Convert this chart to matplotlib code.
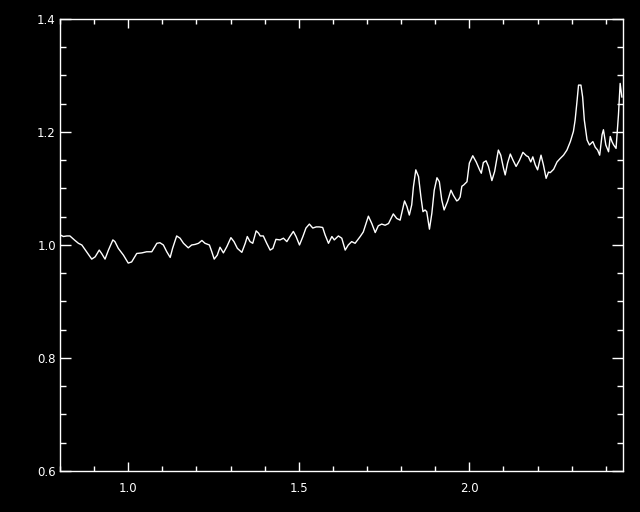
import matplotlib
matplotlib.use("Agg")
import matplotlib.pyplot as plt
from matplotlib.ticker import MultipleLocator, FormatStrFormatter

# wavelength (micron) and normalised flux
wave = [0.800, 0.810, 0.820, 0.829, 0.844, 0.854, 0.864, 0.878, 0.893, 0.903,
        0.915, 0.922, 0.932, 0.942, 0.955, 0.961, 0.971, 0.986, 1.000, 1.010,
        1.025, 1.040, 1.054, 1.069, 1.084, 1.093, 1.103, 1.113, 1.123, 1.130,
        1.142, 1.152, 1.162, 1.176, 1.186, 1.196, 1.206, 1.216, 1.225, 1.238,
        1.245, 1.252, 1.261, 1.269, 1.279, 1.289, 1.301, 1.310, 1.320, 1.333,
        1.343, 1.349, 1.357, 1.365, 1.375, 1.382, 1.387, 1.396, 1.406, 1.416,
        1.424, 1.433, 1.445, 1.455, 1.465, 1.474, 1.484, 1.492, 1.502, 1.512,
        1.521, 1.531, 1.541, 1.551, 1.560, 1.570, 1.577, 1.587, 1.597, 1.604,
        1.616, 1.626, 1.636, 1.645, 1.655, 1.665, 1.680, 1.689, 1.704, 1.714,
        1.724, 1.733, 1.743, 1.753, 1.763, 1.777, 1.787, 1.797, 1.810, 1.817,
        1.824, 1.831, 1.836, 1.843, 1.851, 1.858, 1.864, 1.870, 1.875, 1.883,
        1.890, 1.897, 1.905, 1.912, 1.919, 1.926, 1.936, 1.946, 1.953, 1.963,
        1.968, 1.973, 1.978, 1.983, 1.993, 2.000, 2.010, 2.020, 2.030, 2.035,
        2.041, 2.049, 2.056, 2.066, 2.074, 2.085, 2.092, 2.100, 2.105, 2.112,
        2.120, 2.128, 2.137, 2.147, 2.157, 2.167, 2.173, 2.180, 2.186, 2.193,
        2.200, 2.210, 2.217, 2.225, 2.232, 2.237, 2.247, 2.257, 2.266, 2.276,
        2.286, 2.296, 2.305, 2.310, 2.315, 2.320, 2.327, 2.332, 2.337, 2.345,
        2.352, 2.362, 2.369, 2.376, 2.382, 2.389, 2.393, 2.400, 2.408, 2.413,
        2.418, 2.423, 2.430, 2.437, 2.442, 2.447]
flux = [1.018, 1.015, 1.016, 1.016, 1.008, 1.003, 1.000, 0.988, 0.975, 0.979,
        0.991, 0.985, 0.975, 0.991, 1.009, 1.006, 0.994, 0.982, 0.968, 0.970,
        0.985, 0.986, 0.988, 0.988, 1.003, 1.004, 1.000, 0.988, 0.978, 0.994,
        1.016, 1.012, 1.003, 0.995, 1.000, 1.001, 1.003, 1.008, 1.003, 1.000,
        0.988, 0.975, 0.982, 0.996, 0.986, 0.997, 1.013, 1.006, 0.994, 0.987,
        1.003, 1.015, 1.006, 1.003, 1.025, 1.021, 1.016, 1.016, 1.003, 0.991,
        0.994, 1.010, 1.009, 1.012, 1.006, 1.015, 1.024, 1.015, 1.000, 1.015,
        1.030, 1.037, 1.030, 1.032, 1.032, 1.031, 1.018, 1.003, 1.015, 1.009,
        1.016, 1.012, 0.991, 1.000, 1.006, 1.003, 1.015, 1.023, 1.051, 1.038,
        1.022, 1.034, 1.037, 1.035, 1.038, 1.055, 1.047, 1.044, 1.078, 1.068,
        1.053, 1.071, 1.103, 1.133, 1.121, 1.085, 1.059, 1.062, 1.059, 1.028,
        1.056, 1.097, 1.119, 1.112, 1.080, 1.062, 1.077, 1.097, 1.088, 1.078,
        1.080, 1.085, 1.104, 1.106, 1.112, 1.145, 1.158, 1.147, 1.133, 1.127,
        1.146, 1.149, 1.139, 1.114, 1.130, 1.168, 1.159, 1.136, 1.124, 1.145,
        1.161, 1.150, 1.139, 1.150, 1.164, 1.158, 1.156, 1.147, 1.156, 1.142,
        1.133, 1.159, 1.142, 1.118, 1.129, 1.128, 1.134, 1.147, 1.153, 1.159,
        1.168, 1.183, 1.201, 1.221, 1.251, 1.283, 1.283, 1.262, 1.221, 1.186,
        1.177, 1.183, 1.173, 1.168, 1.159, 1.195, 1.204, 1.177, 1.165, 1.192,
        1.183, 1.177, 1.171, 1.230, 1.286, 1.262]

fig = plt.figure(figsize=(6.4, 5.12), dpi=100, facecolor='black')
ax = fig.add_axes([0.09375, 0.0801, 0.8795, 0.8828], facecolor='black')

ax.plot(wave, flux, color='white', lw=1.0)

ax.set_xlim(0.8, 2.45)
ax.set_ylim(0.6, 1.4)

ax.xaxis.set_major_locator(MultipleLocator(0.5))
ax.xaxis.set_minor_locator(MultipleLocator(0.1))
ax.yaxis.set_major_locator(MultipleLocator(0.2))
ax.yaxis.set_minor_locator(MultipleLocator(0.05))
ax.xaxis.set_major_formatter(FormatStrFormatter('%.1f'))
ax.yaxis.set_major_formatter(FormatStrFormatter('%.1f'))

for s in ax.spines.values():
    s.set_color('white')
    s.set_linewidth(1.0)

ax.tick_params(which='both', direction='in', colors='white', top=True, right=True,
               labelsize=8.5, width=1.0)
ax.tick_params(axis='x', which='major', length=6.5, pad=8)
ax.tick_params(axis='x', which='minor', length=3.6)
ax.tick_params(axis='y', which='major', length=8, pad=3)
ax.tick_params(axis='y', which='minor', length=4.3)

fig.savefig('out.png', dpi=100, facecolor='black')
